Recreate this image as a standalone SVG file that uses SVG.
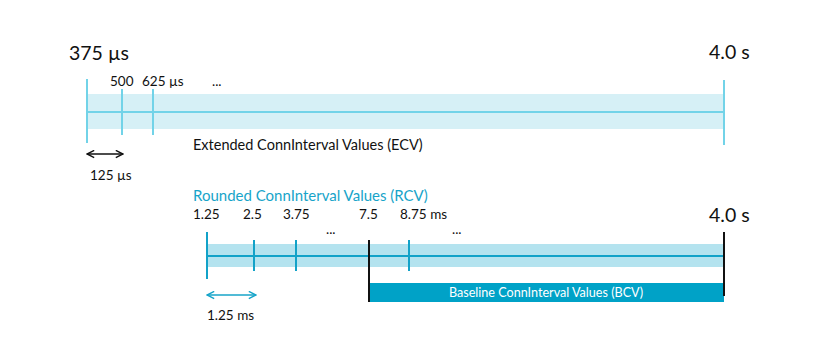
<svg xmlns="http://www.w3.org/2000/svg" width="831" height="360" viewBox="0 0 831 360">
<defs>
<style>
text{font-family:Lato,"Liberation Sans",sans-serif;fill:#111}
.big{font-size:19.5px}
.sm{font-size:13.5px}
.lbl{font-size:14.5px}
.teal{fill:#17a4c9}
.wt{fill:#fff;font-size:12.6px}
.lt{stroke:#72d3e8;stroke-width:2;fill:none}
.dk{stroke:#12a2c8;stroke-width:2;fill:none}
.bk{stroke:#111;stroke-width:2;fill:none}
</style>
<marker id="ab" viewBox="0 0 10 10" refX="9" refY="5" markerWidth="9" markerHeight="9" orient="auto-start-reverse" markerUnits="userSpaceOnUse"><path d="M1,1 L9,5 L1,9" fill="none" stroke="#111" stroke-width="1.6"/></marker>
<marker id="at" viewBox="0 0 10 10" refX="9" refY="5" markerWidth="9" markerHeight="9" orient="auto-start-reverse" markerUnits="userSpaceOnUse"><path d="M1,1 L9,5 L1,9" fill="none" stroke="#17a4c9" stroke-width="1.6"/></marker>
</defs>
<rect width="831" height="360" fill="#fff"/>
<g id="ecv">
<rect x="87" y="94" width="637" height="35" fill="#d6f0f6"/>
<line class="lt" x1="87" y1="112" x2="724" y2="112"/>
<line class="lt" x1="87" y1="79" x2="87" y2="143"/>
<line class="lt" x1="122" y1="89" x2="122" y2="135"/>
<line class="lt" x1="153" y1="89" x2="153" y2="135"/>
<line class="lt" x1="724" y1="80" x2="724" y2="145"/>
<text class="big" x="69" y="60">375 µs</text>
<text class="sm" x="110" y="86">500</text>
<text class="sm" x="142" y="86">625 µs</text>
<text class="sm" x="212" y="86">...</text>
<text class="big" x="709" y="59">4.0 s</text>
<text class="lbl" x="193" y="150">Extended ConnInterval Values (ECV)</text>
<text class="sm" x="90" y="180">125 µs</text>
</g>
<g id="rcv">
<rect x="207" y="244" width="517" height="23" fill="#b4e3ef"/>
<line class="dk" x1="207" y1="256" x2="724" y2="256"/>
<line class="dk" x1="207" y1="232" x2="207" y2="279"/>
<line class="dk" x1="254" y1="240" x2="254" y2="271"/>
<line class="dk" x1="296" y1="240" x2="296" y2="271"/>
<line class="dk" x1="409" y1="240" x2="409" y2="271"/>
<text class="teal" x="193" y="201" style="font-size:15px">Rounded ConnInterval Values (RCV)</text>
<text class="sm" x="193" y="219">1.25</text>
<text class="sm" x="243" y="219">2.5</text>
<text class="sm" x="283" y="219">3.75</text>
<text class="sm" x="326" y="234">...</text>
<text class="sm" x="359" y="219">7.5</text>
<text class="sm" x="400" y="219">8.75 ms</text>
<text class="sm" x="452" y="234">...</text>
<text class="big" x="709" y="222">4.0 s</text>
<text class="sm" x="207" y="320">1.25 ms</text>
</g>
<g id="bcv">
<rect x="369" y="283" width="355" height="19" fill="#00a2c7"/>
<line class="bk" x1="369" y1="240" x2="369" y2="302"/>
<line class="bk" x1="724" y1="232" x2="724" y2="296"/>
<text class="wt" x="546" y="297" text-anchor="middle">Baseline ConnInterval Values (BCV)</text>
</g>
<g id="connectors">
<line x1="87" y1="154" x2="123" y2="154" stroke="#111" stroke-width="1.6" marker-start="url(#ab)" marker-end="url(#ab)"/>
<line x1="207" y1="295" x2="256" y2="295" stroke="#17a4c9" stroke-width="1.6" marker-start="url(#at)" marker-end="url(#at)"/>
</g>
</svg>
